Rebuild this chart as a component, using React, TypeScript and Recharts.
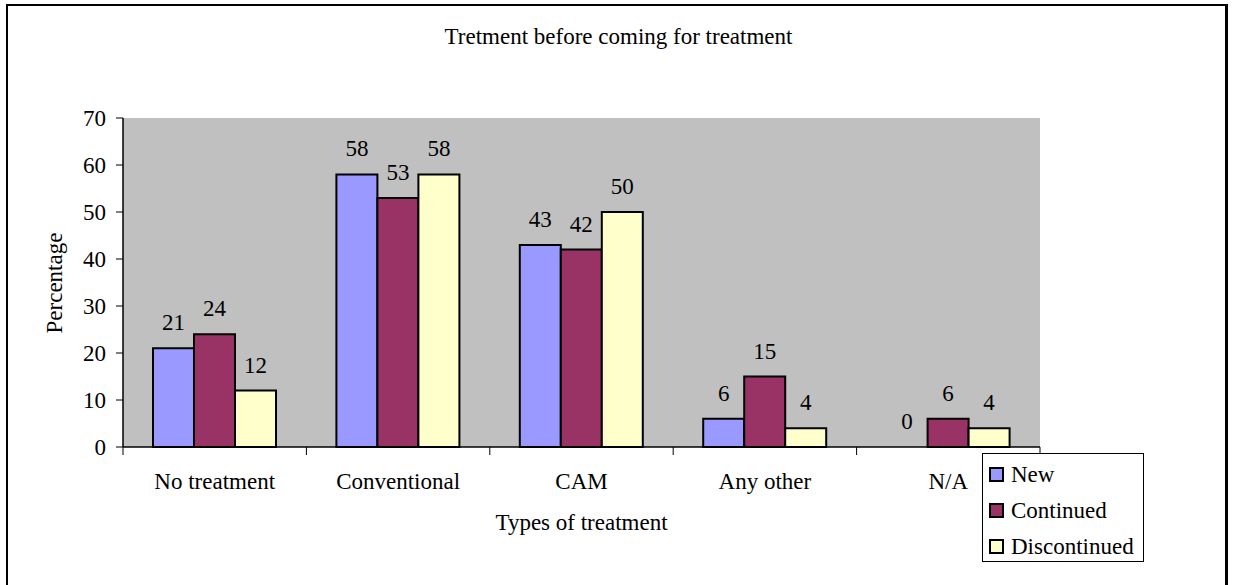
import {
  BarChart,
  Bar,
  XAxis,
  YAxis,
  CartesianGrid,
  Legend,
  LabelList,
  Rectangle,
} from 'recharts';

const categories = ['No treatment', 'Conventional', 'CAM', 'Any other', 'N/A'];
const newValues = [21, 58, 43, 6, 0];
const continuedValues = [24, 53, 42, 15, 6];
const discontinuedValues = [12, 58, 50, 4, 4];
const yTicks = [0, 10, 20, 30, 40, 50, 60, 70];

const seriesList = [
  { key: 'New', color: '#9999FF' },
  { key: 'Continued', color: '#993366' },
  { key: 'Discontinued', color: '#FFFFCC' },
];

const data = categories.map((name, i) => ({
  name,
  New: newValues[i],
  Continued: continuedValues[i],
  Discontinued: discontinuedValues[i],
}));

const FONT = '"Liberation Serif", "Times New Roman", serif';
const FS = 23;

// plot box
const W = 1235;
const H = 585;
const PLOT_L = 123;
const PLOT_R = 1040;
const PLOT_T = 118;
const PLOT_B = 447;
const Y_AXIS_W = 60;
const X_AXIS_H = 30;
const BAND = (PLOT_R - PLOT_L) / categories.length;
const X_TICK = 8;
const X_MARGIN = 18;

// category label in the middle, tick mark on the band boundary
// eslint-disable-next-line @typescript-eslint/no-explicit-any
const XTick = (props: any) => {
  const { x, y, payload, index } = props;
  const axisY = y - X_TICK - X_MARGIN;
  const left = x - BAND / 2;
  const right = x + BAND / 2;
  return (
    <g>
      <line x1={left} x2={left} y1={axisY} y2={axisY + X_TICK} stroke="#000" />
      {index === categories.length - 1 && (
        <line x1={right} x2={right} y1={axisY} y2={axisY + X_TICK} stroke="#000" />
      )}
      <text
        x={x}
        y={y}
        dy="0.71em"
        textAnchor="middle"
        fontFamily={FONT}
        fontSize={FS}
        fill="#000"
      >
        {payload.value}
      </text>
    </g>
  );
};

// value label above each bar (also drawn for zero values)
// eslint-disable-next-line @typescript-eslint/no-explicit-any
const ValueLabel = (props: any) => {
  const { x, y, width, value } = props;
  return (
    <text
      x={Number(x) + Number(width) / 2}
      y={Number(y) - 18}
      textAnchor="middle"
      fontFamily={FONT}
      fontSize={FS}
      fill="#000"
    >
      {value}
    </text>
  );
};

// zero bars get a tiny min size so their label shows, but draw nothing
// eslint-disable-next-line @typescript-eslint/no-explicit-any
const BarShape = (props: any) => {
  if (props.height < 0.5) return <g />;
  return <Rectangle {...props} />;
};

const LegendBox = () => (
  <div
    style={{
      border: '1px solid #000',
      background: '#fff',
      padding: '2px 6px 0 6px',
      fontFamily: FONT,
      fontSize: FS,
      boxSizing: 'border-box',
      width: 162,
      height: 109,
      textAlign: 'left',
    }}
  >
    {seriesList.map((s) => (
      <div key={s.key} style={{ height: 36, display: 'flex', alignItems: 'center' }}>
        <span
          style={{
            display: 'inline-block',
            width: 11,
            height: 11,
            border: '2px solid #000',
            background: s.color,
            marginRight: 7,
          }}
        />
        <span style={{ color: '#000', lineHeight: 1 }}>{s.key}</span>
      </div>
    ))}
  </div>
);

export default function App() {
  return (
    <div style={{ position: 'relative', width: W, height: H, background: '#fff', overflow: 'hidden' }}>
      <style>{`body{margin:0}`}</style>
      <div
        style={{
          position: 'absolute',
          left: 6,
          top: 4,
          width: 1222,
          height: 620,
          border: '2px solid #000',
          borderRightWidth: 3,
          boxSizing: 'border-box',
        }}
      />
      <div
        style={{
          position: 'absolute',
          left: 0,
          width: 1237,
          top: 23,
          textAlign: 'center',
          fontFamily: FONT,
          fontSize: FS,
          lineHeight: '28px',
          color: '#000',
        }}
      >
        Tretment before coming for treatment
      </div>
      <div
        style={{
          position: 'absolute',
          left: PLOT_L,
          width: PLOT_R - PLOT_L,
          top: 509,
          textAlign: 'center',
          fontFamily: FONT,
          fontSize: FS,
          lineHeight: '28px',
          color: '#000',
        }}
      >
        Types of treatment
      </div>
      <div
        style={{
          position: 'absolute',
          left: 55 - 100,
          top: (PLOT_T + PLOT_B) / 2 - 14,
          width: 200,
          textAlign: 'center',
          fontFamily: FONT,
          fontSize: FS,
          lineHeight: '28px',
          color: '#000',
          transform: 'rotate(-90deg)',
        }}
      >
        Percentage
      </div>
      <div style={{ position: 'absolute', left: 0, top: 0 }}>
        <BarChart
          width={W}
          height={H}
          data={data}
          margin={{
            top: PLOT_T,
            right: W - PLOT_R,
            left: PLOT_L - Y_AXIS_W,
            bottom: H - PLOT_B - X_AXIS_H,
          }}
          barCategoryGap={30}
          barGap={0}
        >
          <CartesianGrid fill="#C0C0C0" horizontal={false} vertical={false} stroke="none" />
          <XAxis
            dataKey="name"
            height={X_AXIS_H}
            axisLine={{ stroke: '#000', strokeWidth: 1.5 }}
            tickLine={false}
            tickSize={X_TICK}
            tickMargin={X_MARGIN}
            tick={<XTick />}
            interval={0}
          />
          <XAxis
            xAxisId="top"
            dataKey="name"
            orientation="top"
            height={0}
            tick={false}
            tickLine={false}
            axisLine={{ stroke: '#808080', strokeWidth: 2 }}
          />
          <YAxis
            width={Y_AXIS_W}
            domain={[0, 70]}
            ticks={yTicks}
            interval={0}
            axisLine={{ stroke: '#000', strokeWidth: 1.5 }}
            tickLine={{ stroke: '#000' }}
            tickSize={7}
            tickMargin={10}
            tick={{ fontFamily: FONT, fontSize: FS, fill: '#000' }}
          />
          <YAxis
            yAxisId="right"
            orientation="right"
            width={0}
            domain={[0, 70]}
            tick={false}
            tickLine={false}
            axisLine={{ stroke: '#808080', strokeWidth: 2 }}
          />
          <Legend
            layout="horizontal"
            verticalAlign="middle"
            align="center"
            content={<LegendBox />}
            wrapperStyle={{ position: 'absolute', left: 982, top: 453, width: 162, height: 109 }}
          />
          {seriesList.map((s) => (
            <Bar
              key={s.key}
              dataKey={s.key}
              fill={s.color}
              stroke="#000"
              strokeWidth={2}
              minPointSize={(v: number) => (v === 0 ? 0.1 : 0)}
              shape={<BarShape />}
              isAnimationActive={false}
            >
              <LabelList dataKey={s.key} content={<ValueLabel />} />
            </Bar>
          ))}
        </BarChart>
      </div>
    </div>
  );
}
